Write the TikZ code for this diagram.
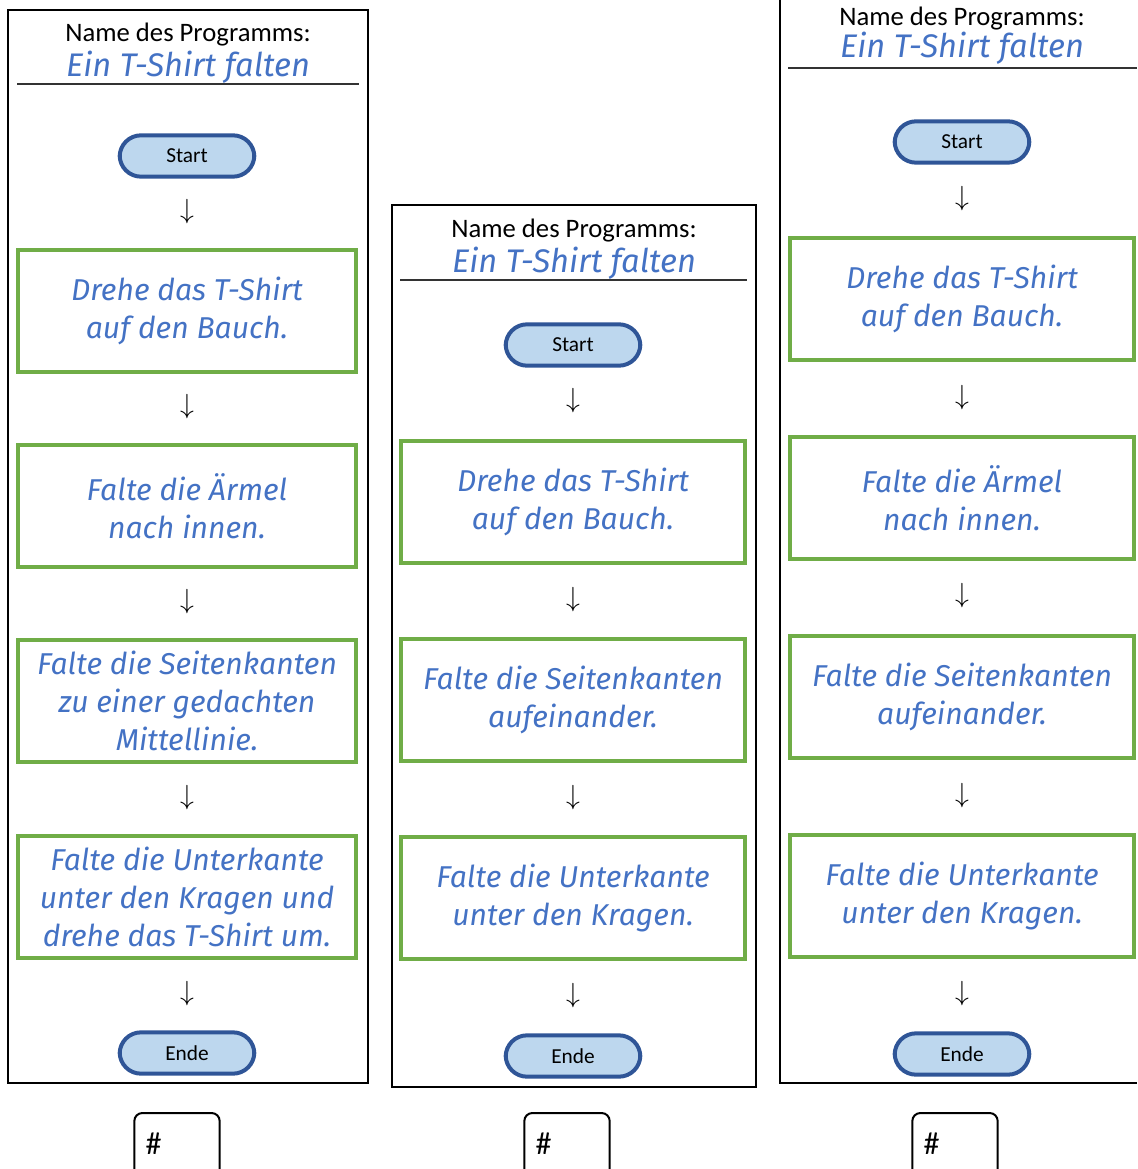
\documentclass[tikz,border=0pt]{standalone}
\usepackage{fontspec}
\setmainfont{Carlito}
\newfontfamily\handfont{Fira Sans}
\usetikzlibrary{positioning}
\definecolor{inkblue}{HTML}{4472C4}
\definecolor{stepgreen}{HTML}{70AD47}
\definecolor{termfill}{HTML}{BDD7EE}
\definecolor{termdraw}{HTML}{2F5597}

\begin{document}
\begin{tikzpicture}[
    x=0.75pt, y=-0.75pt,
    every node/.style={inner sep=0pt},
    heading/.style={font=\fontsize{20}{24}\selectfont},
    progname/.style={font=\handfont\itshape\fontsize{24.5}{28}\selectfont, text=inkblue},
    terminal/.style={draw=termdraw, fill=termfill, line width=3pt, rounded corners=16pt,
        minimum width=101pt, minimum height=31pt, font=\fontsize{16}{18}\selectfont},
    stepbox/.style={draw=stepgreen, line width=3pt, minimum width=253pt, minimum height=92pt,
        align=center, text=inkblue, font=\handfont\itshape\fontsize{22.6}{28.3}\selectfont},
    down/.style={font=\fontsize{20}{24}\selectfont},
    numbox/.style={draw, line width=1.5pt, rounded corners=6pt, minimum width=64pt,
        minimum height=60pt, anchor=north},
    hashmark/.style={font=\fontsize{24}{28}\selectfont, anchor=west}
]
    \useasboundingbox (0,0) rectangle (1137,1169);

    % Panel 1
    \draw[line width=1pt] (8,10) rectangle (368,1083);
    \node[heading] (p1title) at (188,35) {Name des Programms:};
    \node[progname] (p1name) at (188,67) {Ein T-Shirt falten};
    \draw[line width=1.2pt, black!80] (17,84) -- (359,84);
    \node[terminal] (p1start) at (187,156) {Start};
    \node[down] (p1a1) at (187,212) {$\downarrow$};
    \node[stepbox] (p1s1) at (187,311) {Drehe das T-Shirt\\auf den Bauch.};
    \node[down] (p1a2) at (187,407) {$\downarrow$};
    \node[stepbox] (p1s2) at (187,506) {Falte die Ärmel\\nach innen.};
    \node[down] (p1a3) at (187,602) {$\downarrow$};
    \node[stepbox] (p1s3) at (187,701) {Falte die Seitenkanten\\zu einer gedachten\\Mittellinie.};
    \node[down] (p1a4) at (187,798) {$\downarrow$};
    \node[stepbox] (p1s4) at (187,897) {Falte die Unterkante\\unter den Kragen und\\drehe das T-Shirt um.};
    \node[down] (p1a5) at (187,994) {$\downarrow$};
    \node[terminal] (p1end) at (187,1053) {Ende};

    % Panel 2
    \draw[line width=1pt] (392,205) rectangle (756,1087);
    \node[heading] (p2title) at (574,231) {Name des Programms:};
    \node[progname] (p2name) at (574,263) {Ein T-Shirt falten};
    \draw[line width=1.2pt, black!80] (400,280) -- (747,280);
    \node[terminal] (p2start) at (573,345) {Start};
    \node[down] (p2a1) at (573,401) {$\downarrow$};
    \node[stepbox, minimum width=258pt] (p2s1) at (573,502) {Drehe das T-Shirt\\auf den Bauch.};
    \node[down] (p2a2) at (573,600) {$\downarrow$};
    \node[stepbox, minimum width=258pt] (p2s2) at (573,700) {Falte die Seitenkanten\\aufeinander.};
    \node[down] (p2a3) at (573,798) {$\downarrow$};
    \node[stepbox, minimum width=258pt] (p2s3) at (573,898) {Falte die Unterkante\\unter den Kragen.};
    \node[down] (p2a4) at (573,996) {$\downarrow$};
    \node[terminal] (p2end) at (573,1056) {Ende};

    % Panel 3 (cut at the page edge)
    \draw[line width=1pt] (780,0) -- (780,1083) -- (1137,1083);
    \node[heading] (p3title) at (962,19) {Name des Programms:};
    \node[progname] (p3name) at (962,48) {Ein T-Shirt falten};
    \draw[line width=1.2pt, black!80] (788,68) -- (1137,68);
    \node[terminal] (p3start) at (962,142) {Start};
    \node[down] (p3a1) at (962,199) {$\downarrow$};
    \node[stepbox, minimum width=258pt] (p3s1) at (962,299) {Drehe das T-Shirt\\auf den Bauch.};
    \node[down] (p3a2) at (962,398) {$\downarrow$};
    \node[stepbox, minimum width=258pt] (p3s2) at (962,498) {Falte die Ärmel\\nach innen.};
    \node[down] (p3a3) at (962,596) {$\downarrow$};
    \node[stepbox, minimum width=258pt] (p3s3) at (962,697) {Falte die Seitenkanten\\aufeinander.};
    \node[down] (p3a4) at (962,796) {$\downarrow$};
    \node[stepbox, minimum width=258pt] (p3s4) at (962,896) {Falte die Unterkante\\unter den Kragen.};
    \node[down] (p3a5) at (962,994) {$\downarrow$};
    \node[terminal] (p3end) at (962,1054) {Ende};

    % Number fields below the panels
    \node[numbox] (n1) at (177,1112) {};
    \node[hashmark] (h1) at ([xshift=9pt,yshift=-24pt]n1.north west) {\#};
    \node[numbox] (n2) at (567,1112) {};
    \node[hashmark] (h2) at ([xshift=9pt,yshift=-24pt]n2.north west) {\#};
    \node[numbox] (n3) at (955,1112) {};
    \node[hashmark] (h3) at ([xshift=9pt,yshift=-24pt]n3.north west) {\#};
\end{tikzpicture}
\end{document}
